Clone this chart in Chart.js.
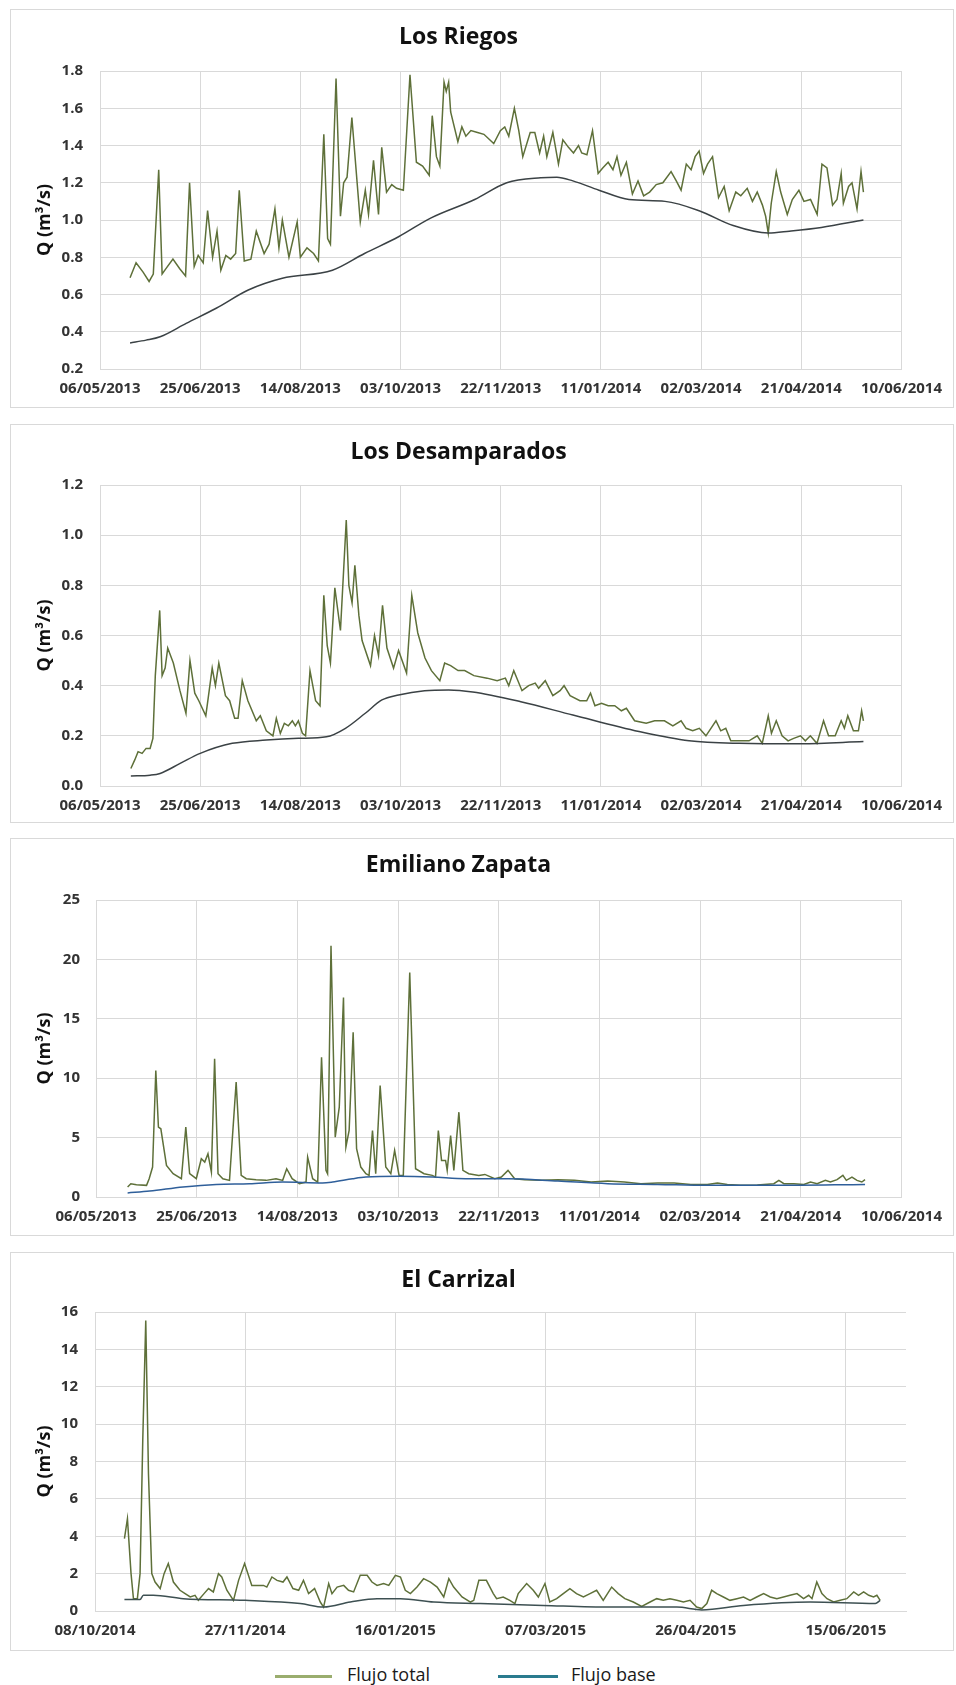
<!DOCTYPE html>
<html>
<head>
<meta charset="utf-8">
<script src="https://cdn.jsdelivr.net/npm/chart.js@4.4.0/dist/chart.umd.min.js"></script>
<style>
  body { margin: 0; background: #fff; font-family: 'Open Sans', sans-serif; }
  #page { position: relative; width: 956px; height: 1685px; }
  .panel { position: absolute; left: 10px; width: 942px; border: 1px solid #d9d9d9; background: #fff; }
  .panel canvas { display: block; }
  .legend { position: absolute; top: 1662px; font-size: 18px; color: #1a1a1a; }
  .legend span.swatch { position: absolute; top: 13px; height: 3px; }
</style>
</head>
<body>
<div id="page">
  <div class="panel" style="top:9px;height:397px"><canvas id="riegos" width="942" height="397"></canvas></div>
  <div class="panel" style="top:424px;height:397px"><canvas id="desamparados" width="942" height="397"></canvas></div>
  <div class="panel" style="top:838px;height:396px"><canvas id="zapata" width="942" height="396"></canvas></div>
  <div class="panel" style="top:1252px;height:397px"><canvas id="carrizal" width="942" height="397"></canvas></div>

  <div class="legend" style="left:275px"><span class="swatch" style="left:0;width:57px;background:#9aad6e"></span><span style="margin-left:72px">Flujo total</span></div>
  <div class="legend" style="left:498px"><span class="swatch" style="left:0;width:60px;background:#2a7b8e"></span><span style="margin-left:73px">Flujo base</span></div>
</div>

<script>
// x tick labels, one every 50 days from the axis start
var dates2013 = ['06/05/2013', '25/06/2013', '14/08/2013', '03/10/2013', '22/11/2013', '11/01/2014', '02/03/2014', '21/04/2014', '10/06/2014'];
var dates2014 = ['08/10/2014', '27/11/2014', '16/01/2015', '07/03/2015', '26/04/2015', '15/06/2015'];

// y tick labels
var riegosTicks = ['0.2', '0.4', '0.6', '0.8', '1.0', '1.2', '1.4', '1.6', '1.8'];
var desamparadosTicks = ['0.0', '0.2', '0.4', '0.6', '0.8', '1.0', '1.2'];
var zapataTicks = ['0', '5', '10', '15', '20', '25'];
var carrizalTicks = ['0', '2', '4', '6', '8', '10', '12', '14', '16'];

// [days since axis start, Q in m3/s]
var riegosTotal = [[15,0.69],[18,0.77],[21.5,0.72],[24.5,0.67],[26.6,0.71],[29.3,1.27],[31,0.71],[33,0.74],[36.4,0.79],[39.7,0.74],[42.7,0.70],[44.7,1.20],[47,0.75],[49,0.81],[51.5,0.77],[53.7,1.05],[56.2,0.80],[58.4,0.94],[60.3,0.73],[62.8,0.81],[65.2,0.79],[67.7,0.82],[69.5,1.16],[72,0.78],[75.3,0.79],[78,0.94],[81.9,0.82],[84.4,0.87],[87.3,1.06],[89.3,0.85],[91,1.00],[94.3,0.80],[98.4,0.99],[100,0.80],[103.3,0.85],[106.6,0.82],[109,0.78],[111.7,1.46],[113.6,0.90],[115,0.87],[117.8,1.76],[120,1.02],[121.6,1.20],[123.3,1.23],[125.7,1.55],[129.9,0.99],[132.4,1.16],[134,1.03],[136.5,1.32],[139,1.03],[140.6,1.39],[143,1.15],[145.6,1.19],[148,1.17],[151.4,1.16],[154.7,1.78],[157.9,1.31],[161,1.29],[164.3,1.24],[165.8,1.56],[167.9,1.34],[169.6,1.29],[171.7,1.74],[172.8,1.69],[174,1.74],[175,1.58],[178.6,1.42],[180.6,1.50],[182.6,1.45],[185.1,1.48],[188.4,1.47],[191.6,1.46],[196.5,1.41],[199.8,1.48],[202,1.50],[204,1.45],[206.8,1.60],[209,1.48],[211,1.34],[214.7,1.47],[217,1.47],[219.4,1.36],[221.4,1.45],[223,1.34],[226,1.47],[228.8,1.30],[231,1.43],[233.8,1.39],[236.3,1.36],[238.8,1.40],[240.4,1.36],[243,1.35],[245.8,1.48],[248.6,1.25],[251,1.28],[253.6,1.31],[256,1.27],[258,1.34],[260,1.24],[262.7,1.31],[265.7,1.14],[268.5,1.21],[271.3,1.13],[274.3,1.15],[277.6,1.19],[280.9,1.20],[285,1.26],[287.6,1.21],[290,1.16],[292.6,1.30],[295,1.27],[297,1.34],[299,1.37],[301.2,1.25],[303.2,1.30],[305.7,1.34],[308.7,1.12],[311.5,1.18],[314,1.05],[317.3,1.15],[319.8,1.13],[323,1.17],[325.6,1.10],[328,1.15],[330.6,1.08],[332.2,1.02],[333.5,0.93],[335,1.09],[337.5,1.26],[339.7,1.15],[343,1.03],[345.5,1.11],[348.8,1.16],[351.3,1.10],[354.6,1.11],[357.9,1.03],[360.3,1.30],[362.8,1.28],[365.6,1.08],[367.8,1.11],[369.9,1.25],[371,1.09],[373.6,1.18],[375.3,1.20],[377.8,1.06],[379.8,1.26],[381,1.15]];
var riegosBase = [[15,0.34],[23,0.355],[30,0.373],[43,0.445],[58,0.526],[74,0.624],[91,0.687],[116,0.73],[132,0.82],[149,0.91],[165,1.01],[187,1.11],[203,1.20],[220,1.227],[228,1.23],[236,1.21],[249,1.16],[264,1.11],[282,1.10],[299,1.05],[316,0.97],[333.5,0.93],[344,0.94],[360,0.96],[381,1.0]];

var desamparadosTotal = [[15.4,0.07],[17.4,0.105],[19,0.137],[21,0.13],[23,0.15],[25,0.15],[26.4,0.19],[27.6,0.44],[29.8,0.70],[31,0.44],[32.5,0.47],[33.8,0.55],[36.6,0.49],[39.9,0.38],[42.9,0.29],[44.9,0.50],[47.3,0.37],[49.3,0.34],[52.8,0.28],[56,0.47],[57.6,0.40],[59.3,0.49],[62.6,0.36],[64.7,0.34],[67.2,0.27],[68.9,0.27],[71,0.42],[73.8,0.34],[78,0.26],[80,0.28],[83,0.22],[86.3,0.20],[88,0.27],[90,0.21],[92,0.25],[94,0.24],[96,0.26],[97.5,0.24],[99,0.26],[101,0.21],[102.6,0.20],[104.8,0.46],[107.6,0.34],[109.8,0.32],[111.7,0.76],[113.4,0.56],[115,0.49],[117.2,0.79],[120,0.62],[122.9,1.06],[124.2,0.80],[125.8,0.73],[127.2,0.88],[129.2,0.68],[130.8,0.58],[135,0.48],[137,0.60],[139,0.52],[141,0.72],[143.2,0.55],[146.5,0.47],[149,0.54],[153,0.45],[155.6,0.76],[158.6,0.61],[162.2,0.51],[165.4,0.46],[169.6,0.42],[172,0.49],[175,0.48],[178.7,0.46],[182,0.46],[186.6,0.44],[193.2,0.43],[198.2,0.42],[202.3,0.43],[204,0.40],[206.5,0.46],[210.6,0.38],[213.9,0.40],[217.2,0.41],[218.9,0.39],[222.2,0.42],[226,0.36],[229.6,0.38],[231.6,0.40],[234.6,0.36],[239.5,0.34],[242.9,0.34],[244.8,0.37],[247,0.32],[250.3,0.33],[253.6,0.32],[256.9,0.32],[260.2,0.30],[262.7,0.31],[266.8,0.26],[272.6,0.25],[276.8,0.26],[281.7,0.26],[285.9,0.24],[290,0.26],[292.5,0.23],[295.8,0.22],[299.1,0.23],[302.4,0.20],[304.9,0.23],[307.4,0.26],[309.8,0.22],[312.3,0.23],[314.8,0.18],[318.9,0.18],[323.9,0.18],[328,0.20],[330.5,0.17],[333.5,0.28],[335.1,0.21],[337.5,0.26],[340.4,0.20],[343.4,0.18],[346.2,0.19],[349.6,0.20],[352,0.18],[354.5,0.20],[357.8,0.17],[361.1,0.26],[363.6,0.20],[366.9,0.20],[369.9,0.26],[371.5,0.23],[373.2,0.28],[376,0.22],[378.5,0.22],[380.1,0.30],[381,0.26]];
var desamparadosBase = [[15.4,0.04],[25,0.043],[30,0.05],[40,0.09],[50,0.13],[66,0.17],[83,0.183],[99,0.19],[113,0.196],[122.5,0.23],[132.4,0.29],[140.7,0.343],[149,0.363],[162,0.38],[174,0.383],[186,0.375],[210,0.336],[236,0.283],[269,0.217],[294,0.18],[319,0.17],[350,0.168],[381,0.177]];

var zapataTotal = [[15.7,0.84],[17.3,1.12],[20.1,1.04],[25.1,0.98],[26.4,1.54],[28.1,2.52],[29.7,10.65],[31,5.88],[32.2,5.74],[35,2.66],[38.3,1.96],[42.4,1.54],[44.6,5.88],[46.5,1.96],[49.8,1.54],[52.3,3.22],[54,2.94],[55.6,3.64],[57.3,2.10],[58.9,11.63],[60.6,1.96],[63,1.54],[66.3,1.40],[69.6,9.67],[72.1,1.82],[74.6,1.54],[79.5,1.46],[84.5,1.40],[89.4,1.54],[92.7,1.40],[94.7,2.38],[97.4,1.54],[101,1.12],[104.3,1.26],[105.1,3.36],[107.6,1.54],[110.1,1.26],[112,11.77],[114.2,2.24],[115,1.96],[116.7,21.15],[118.8,5.04],[120.8,7.56],[122.9,16.8],[124.1,4.2],[125.7,5.6],[127.7,13.87],[129.4,4.07],[131.5,2.52],[134,1.96],[135.6,1.82],[137.3,5.6],[138.9,1.96],[141.1,9.39],[143.9,2.52],[146.4,1.96],[148.3,3.92],[150.5,1.82],[152.6,1.82],[155.8,18.9],[158.7,2.38],[162.9,1.96],[167,1.82],[168.6,1.68],[170,5.6],[171.6,3.08],[173.6,3.08],[174.4,2.24],[176.1,5.18],[177.7,2.24],[180.2,7.14],[182.2,2.24],[185.1,1.96],[190.1,1.82],[193.1,1.9],[198,1.54],[201.3,1.68],[204.6,2.24],[207.9,1.54],[212.9,1.46],[221.1,1.40],[229.4,1.46],[237.6,1.40],[245.9,1.26],[254.1,1.34],[262.4,1.26],[270.6,1.12],[278.9,1.18],[287.1,1.18],[295.4,1.06],[303.6,1.06],[308.6,1.18],[313.5,1.06],[320.1,0.98],[328.4,1.01],[336.6,1.12],[339.1,1.40],[341.6,1.12],[346.5,1.12],[351.5,1.06],[354.8,1.26],[358.1,1.12],[362.2,1.40],[364.7,1.26],[368,1.46],[370.9,1.82],[372.6,1.40],[375.4,1.68],[377.9,1.40],[380.3,1.26],[381.9,1.46]];
var zapataBase = [[15.7,0.34],[26.7,0.5],[43.2,0.84],[59.7,1.06],[76.2,1.12],[92.7,1.26],[112.5,1.18],[117.5,1.26],[127.4,1.54],[134,1.68],[150.5,1.74],[167,1.68],[183.5,1.54],[204.6,1.54],[229.4,1.34],[254.1,1.12],[278.9,1.06],[303.6,0.98],[336.6,0.98],[381.9,1.06]];

var carrizalTotal = [[9.8,3.87],[10.8,4.94],[12,2.0],[12.8,0.66],[14.1,0.66],[15,2.0],[15.9,9.13],[16.9,15.55],[17.8,7.35],[18.9,2.0],[20,1.55],[21.7,1.2],[23,2.0],[24.4,2.54],[26.1,1.55],[28.3,1.11],[30,0.93],[31.7,0.75],[33.3,0.84],[34.4,0.57],[36.3,0.93],[37.8,1.2],[39.4,1.02],[41.1,2.0],[42.2,1.82],[43.9,1.11],[46.1,0.57],[47.8,1.64],[49.8,2.54],[52.2,1.37],[54.4,1.37],[56.1,1.37],[57.2,1.28],[58.9,1.82],[60.6,1.64],[62.6,1.55],[63.9,1.82],[65.9,1.2],[67.8,1.11],[69.4,1.64],[71.1,0.93],[73.1,1.2],[75,0.48],[76.1,0.21],[77.8,1.47],[78.9,0.93],[80.6,1.28],[82.8,1.37],[84.4,1.11],[86.1,1.02],[88.3,1.91],[90.6,1.91],[92.2,1.55],[93.9,1.37],[96.1,1.47],[97.8,1.37],[100,1.91],[101.7,1.82],[103.3,1.11],[105,0.93],[107.2,1.28],[109.4,1.73],[111.7,1.55],[113.9,1.28],[116.1,0.75],[117.8,1.73],[119.4,1.28],[122.2,0.75],[125,0.48],[126.1,0.57],[127.8,1.64],[130.3,1.64],[132.6,0.93],[133.7,0.66],[135.9,0.75],[138.1,0.57],[139.8,0.4],[140.9,0.93],[143.7,1.47],[145.9,1.11],[147.6,0.75],[149.8,1.47],[151.4,0.48],[153.7,0.66],[155.9,0.93],[158.1,1.2],[160.3,0.93],[162.6,0.75],[164.8,0.93],[167,1.11],[169.2,0.57],[172,1.28],[174.2,0.93],[176.4,0.66],[179.2,0.48],[182,0.25],[184.8,0.48],[187,0.66],[189.2,0.57],[191.4,0.66],[193.7,0.57],[195.9,0.48],[198.1,0.57],[200.3,0.21],[202,0.13],[203.7,0.4],[205.3,1.11],[207,0.93],[209.2,0.75],[211.4,0.57],[213.7,0.66],[215.9,0.75],[218.1,0.57],[220.3,0.75],[222.6,0.93],[224.8,0.75],[227,0.66],[229.2,0.75],[231.4,0.84],[233.7,0.93],[235.9,0.66],[237.6,0.84],[238.7,0.66],[240.3,1.55],[242,0.93],[243.7,0.66],[245.9,0.48],[248.1,0.57],[250.3,0.66],[252.6,1.02],[254.2,0.84],[255.9,1.02],[257.6,0.84],[259.2,0.75],[260.3,0.84],[261.4,0.57]];
var carrizalBase = [[9.8,0.61],[15,0.61],[16.1,0.84],[19.4,0.84],[29.4,0.66],[50,0.57],[68.3,0.4],[76.1,0.21],[85,0.48],[93.9,0.66],[101.7,0.66],[112.8,0.48],[128.3,0.4],[149.2,0.3],[171.4,0.21],[193.7,0.21],[202,0.06],[215.9,0.3],[238.1,0.48],[259.8,0.4],[261.4,0.57]];

var gridColor = '#d9d9d9';
var tickColor = '#333333';

function toPoints(pairs) {
    return pairs.map(function (p) { return {x: p[0], y: p[1]}; });
}

// Draws one station panel; geometry values are canvas pixels
function makeChart(id, opts) {
    var canvas = document.getElementById(id);
    var h = canvas.height;
    var titleLine = 23 * 1.2;
    return new Chart(canvas.getContext('2d'), {
        type: 'line',
        data: {
            datasets: [
                {
                    label: 'Flujo total',
                    data: toPoints(opts.total),
                    borderColor: '#5e7039',
                    borderWidth: 1.5,
                    pointRadius: 0,
                    tension: 0,
                    order: 1
                },
                {
                    label: 'Flujo base',
                    data: toPoints(opts.base),
                    borderColor: opts.baseColor,
                    borderWidth: 1.5,
                    pointRadius: 0,
                    cubicInterpolationMode: 'monotone',
                    order: 0
                }
            ]
        },
        options: {
            responsive: false,
            animation: false,
            layout: {padding: {left: 0, right: 47, top: 0, bottom: 0}},
            plugins: {
                legend: {display: false},
                tooltip: {enabled: false},
                title: {
                    display: true,
                    text: opts.title,
                    color: '#111',
                    font: {family: 'Open Sans', size: 23, weight: 'bold'},
                    padding: {top: opts.titleY - titleLine / 2, bottom: opts.plotTop - opts.titleY - titleLine / 2}
                }
            },
            scales: {
                x: {
                    type: 'linear',
                    min: 0,
                    max: opts.xMax,
                    ticks: {
                        stepSize: 50,
                        includeBounds: false,
                        maxRotation: 0,
                        autoSkip: false,
                        padding: 11,
                        color: tickColor,
                        font: {family: 'Open Sans', size: 15, weight: 'bold'},
                        callback: function (v, i) { return opts.dates[i]; }
                    },
                    grid: {color: gridColor, drawTicks: false},
                    border: {color: gridColor},
                    afterFit: function (s) { s.height = h - opts.plotBottom; }
                },
                y: {
                    min: parseFloat(opts.yTicks[0]),
                    max: parseFloat(opts.yTicks[opts.yTicks.length - 1]),
                    afterBuildTicks: function (s) {
                        s.ticks = opts.yTicks.map(function (t) { return {value: parseFloat(t)}; });
                    },
                    ticks: {
                        padding: opts.yPad,
                        color: tickColor,
                        font: {family: 'Open Sans', size: 15, weight: 'bold'},
                        callback: function (v, i) { return opts.yTicks[i]; }
                    },
                    grid: {color: gridColor, drawTicks: false},
                    border: {color: gridColor},
                    title: {
                        display: true,
                        text: 'Q (m³/s)',
                        color: '#111',
                        font: {family: 'Open Sans', size: 18, weight: 'bold'},
                        padding: {top: 23, bottom: 0}
                    },
                    afterFit: function (s) { s.width = opts.plotLeft; }
                }
            }
        }
    });
}

makeChart('riegos', {
    title: 'Los Riegos', total: riegosTotal, base: riegosBase, baseColor: '#3b4245',
    dates: dates2013, xMax: 400, yTicks: riegosTicks,
    plotTop: 61, plotBottom: 359, plotLeft: 89, titleY: 27, yPad: 17
});
makeChart('desamparados', {
    title: 'Los Desamparados', total: desamparadosTotal, base: desamparadosBase, baseColor: '#3b4245',
    dates: dates2013, xMax: 400, yTicks: desamparadosTicks,
    plotTop: 60, plotBottom: 361, plotLeft: 89, titleY: 27, yPad: 17
});
makeChart('zapata', {
    title: 'Emiliano Zapata', total: zapataTotal, base: zapataBase, baseColor: '#2f5f9a',
    dates: dates2013, xMax: 400, yTicks: zapataTicks,
    plotTop: 61, plotBottom: 358, plotLeft: 85, titleY: 26, yPad: 16
});
makeChart('carrizal', {
    title: 'El Carrizal', total: carrizalTotal, base: carrizalBase, baseColor: '#3d5052',
    dates: dates2014, xMax: 270, yTicks: carrizalTicks,
    plotTop: 59, plotBottom: 358, plotLeft: 84, titleY: 27, yPad: 17
});
</script>
</body>
</html>
